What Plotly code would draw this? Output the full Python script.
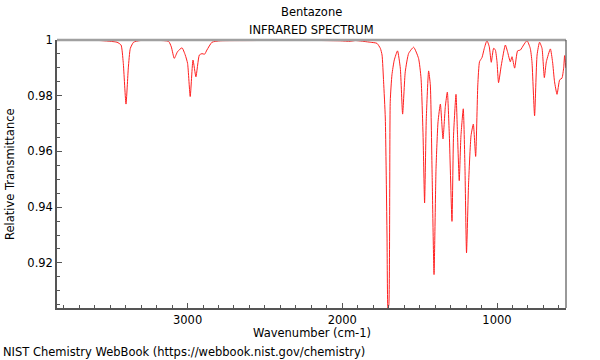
import plotly.graph_objects as go

wavenumber = [3844, 3694, 3564, 3456, 3430, 3416, 3398, 3383, 3370, 3349, 3306,
              3123, 3105, 3086, 3065, 3036, 3015, 3000, 2983, 2965, 2946, 2924,
              2907, 2890, 2875, 2842, 2789, 2595, 2271, 2013, 1948, 1916, 1819,
              1776, 1754, 1743, 1733, 1722, 1711, 1705, 1699, 1690, 1679, 1664,
              1643, 1625, 1610, 1593, 1571, 1539, 1507, 1491, 1478, 1468, 1457,
              1442, 1431, 1420, 1407, 1394, 1381, 1366, 1349, 1334, 1321, 1308,
              1291, 1281, 1265, 1255, 1244, 1233, 1218, 1207, 1197, 1184, 1168,
              1153, 1138, 1124, 1113, 1097, 1082, 1065, 1050, 1037, 1022, 1011,
              1000, 990, 972, 946, 932, 914, 903, 886, 867, 849, 828, 806, 785,
              774, 757, 741, 725, 709, 694, 681, 655, 641, 628, 612, 595, 580,
              569, 563, 555]
transmittance = [0.9998, 0.9999, 0.9998, 0.9992, 0.9982, 0.9920, 0.9770, 0.9900,
                 0.9970, 0.9992, 0.9998, 0.9995, 0.9975, 0.9934, 0.9958, 0.9972,
                 0.9946, 0.9916, 0.9797, 0.9928, 0.9868, 0.9946, 0.9951, 0.9949,
                 0.9964, 0.9992, 0.9997, 0.9998, 0.9999, 0.9997, 0.9995, 0.9998,
                 0.9992, 0.9988, 0.9970, 0.9946, 0.9850, 0.9720, 0.9300, 0.9035,
                 0.9050, 0.9780, 0.9875, 0.9928, 0.9961, 0.9899, 0.9734, 0.9886,
                 0.9952, 0.9974, 0.9934, 0.9863, 0.9659, 0.9415, 0.9719, 0.9889,
                 0.9839, 0.9540, 0.9158, 0.9540, 0.9707, 0.9770, 0.9645, 0.9761,
                 0.9813, 0.9656, 0.9349, 0.9656, 0.9805, 0.9656, 0.9495, 0.9656,
                 0.9753, 0.9540, 0.9236, 0.9480, 0.9656, 0.9698, 0.9582, 0.9839,
                 0.9922, 0.9937, 0.9970, 0.9998, 0.9976, 0.9920, 0.9970, 0.9965,
                 0.9922, 0.9847, 0.9910, 0.9982, 0.9958, 0.9922, 0.9940, 0.9899,
                 0.9961, 0.9964, 0.9982, 0.9998, 0.9970, 0.9922, 0.9728, 0.9946,
                 0.9992, 0.9970, 0.9865, 0.9922, 0.9968, 0.9922, 0.9850, 0.9805,
                 0.9857, 0.9863, 0.9900, 0.9944, 0.9900]

x_range = [3844, 554]
y_range = [0.9038, 1.0]

FONT = "DejaVu Sans"
FS = 11.5

fig = go.Figure()
fig.add_trace(go.Scatter(
    x=wavenumber, y=transmittance, mode="lines",
    line=dict(color="#ff2020", width=1, shape="spline", smoothing=0.5),
    hoverinfo="x+y", showlegend=False,
))

axis_common = dict(
    showgrid=False, zeroline=False, showline=True, linecolor="#555555",
    linewidth=1.5, ticks="inside", tickcolor="#555555", tickwidth=1,
    ticklen=5, tickfont=dict(family=FONT, size=FS, color="#000000"),
)

fig.update_xaxes(
    range=x_range, tick0=0, dtick=1000, autorange=False,
    minor=dict(dtick=100, ticks="inside", ticklen=3, tickcolor="#555555"),
    **axis_common,
)
fig.update_yaxes(
    range=y_range, tick0=0, dtick=0.02, autorange=False,
    minor=dict(dtick=0.005, ticks="inside", ticklen=3, tickcolor="#555555"),
    **axis_common,
)

fig.update_layout(
    width=600, height=360,
    margin=dict(l=57, r=34, t=40, b=52),
    paper_bgcolor="white", plot_bgcolor="white",
    font=dict(family=FONT, size=FS, color="#000000"),
    shapes=[
        dict(type="line", xref="paper", yref="paper", x0=0, x1=1, y0=1, y1=1,
             line=dict(color="#a0a0a0", width=2.5)),
        dict(type="line", xref="paper", yref="paper", x0=1, x1=1, y0=0, y1=1,
             line=dict(color="#555555", width=1.2)),
    ],
    annotations=[
        dict(text="Bentazone", xref="paper", yref="paper", x=0.5, y=1,
             yshift=28, showarrow=False, xanchor="center", yanchor="middle",
             font=dict(family=FONT, size=FS)),
        dict(text="INFRARED SPECTRUM", xref="paper", yref="paper", x=0.5, y=1,
             yshift=10, showarrow=False, xanchor="center", yanchor="middle",
             font=dict(family=FONT, size=FS)),
        dict(text="Wavenumber (cm-1)", xref="paper", yref="paper", x=0.5, y=0,
             yshift=-25, showarrow=False, xanchor="center", yanchor="middle",
             font=dict(family=FONT, size=FS)),
        dict(text="Relative Transmittance", xref="paper", yref="paper", x=0,
             xshift=-47, y=0.5, textangle=-90, showarrow=False,
             xanchor="center", yanchor="middle", font=dict(family=FONT, size=FS)),
        dict(text="NIST Chemistry WebBook (https://webbook.nist.gov/chemistry)",
             xref="paper", yref="paper", x=0, xshift=-56, y=0, yshift=-44,
             showarrow=False, xanchor="left", yanchor="middle",
             font=dict(family=FONT, size=FS)),
    ],
)

fig.write_html("out.html", config={"displayModeBar": False},
               post_script="document.body.style.margin='0';document.body.style.padding='0';")
